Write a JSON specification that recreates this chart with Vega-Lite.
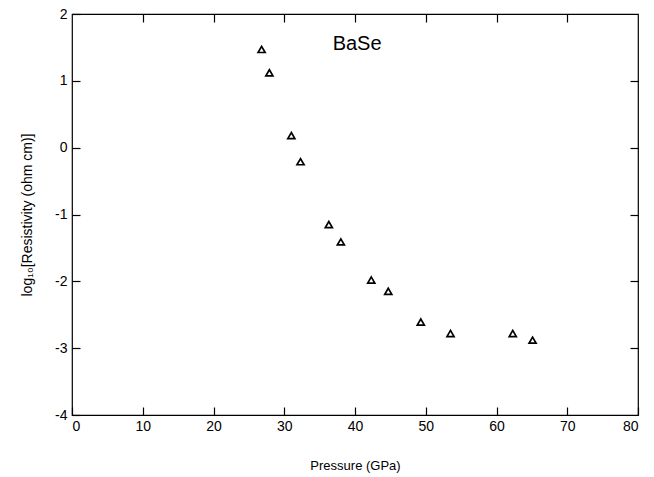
{
  "$schema": "https://vega.github.io/schema/vega-lite/v6.json",
  "width": 566,
  "height": 401,
  "autosize": {"type": "none"},
  "padding": {"left": 72, "top": 14, "right": 16, "bottom": 62},
  "background": "white",
  "config": {
    "view": {"stroke": "black", "strokeWidth": 1.2},
    "font": "Liberation Sans",
    "axis": {
      "grid": false,
      "domain": false,
      "tickColor": "black",
      "tickSize": -8,
      "tickWidth": 1.2,
      "labelColor": "black",
      "labelFont": "Liberation Sans",
      "labelFontSize": 14,
      "titleColor": "black",
      "titleFont": "Liberation Sans",
      "titleFontSize": 13,
      "titleFontWeight": "normal"
    }
  },
  "data": {
    "values": [
      {"p": 26.8, "r": 1.47},
      {"p": 27.9, "r": 1.12},
      {"p": 31.0, "r": 0.18},
      {"p": 32.3, "r": -0.21},
      {"p": 36.3, "r": -1.15},
      {"p": 38.0, "r": -1.41},
      {"p": 42.3, "r": -1.98},
      {"p": 44.7, "r": -2.15},
      {"p": 49.3, "r": -2.61},
      {"p": 53.5, "r": -2.78},
      {"p": 62.3, "r": -2.78},
      {"p": 65.1, "r": -2.88}
    ]
  },
  "layer": [
    {
      "mark": {"type": "point", "shape": "triangle-up", "filled": false, "stroke": "black", "opacity": 1, "strokeWidth": 1.7, "size": 50},
      "encoding": {
        "x": {
          "field": "p", "type": "quantitative",
          "scale": {"domain": [0, 80], "nice": false, "zero": false},
          "axis": {"orient": "bottom", "values": [0,10,20,30,40,50,60,70,80], "title": "Pressure (GPa)", "labelPadding": 12, "titlePadding": 26}
        },
        "y": {
          "field": "r", "type": "quantitative",
          "scale": {"domain": [-4, 2], "nice": false, "zero": false},
          "axis": {"orient": "left", "values": [-4,-3,-2,-1,0,1,2], "labelExpr": "datum.value < 0 ? '-' + abs(datum.value) : '' + datum.value", "title": "log₁₀[Resistivity (ohm cm)]", "titleFontSize": 14, "labelPadding": 13, "titlePadding": 20}
        }
      }
    },
    {
      "mark": {"type": "text", "fontSize": 20, "font": "Liberation Sans", "color": "black"},
      "data": {"values": [{"p": 40.3, "r": 1.55, "t": "BaSe"}]},
      "encoding": {
        "x": {"field": "p", "type": "quantitative", "scale": {"domain": [0, 80], "nice": false, "zero": false}, "axis": null},
        "y": {"field": "r", "type": "quantitative", "scale": {"domain": [-4, 2], "nice": false, "zero": false}, "axis": null},
        "text": {"field": "t"}
      }
    },
    {
      "mark": {"type": "point", "opacity": 0},
      "encoding": {
        "x": {"field": "p", "type": "quantitative", "scale": {"domain": [0, 80], "nice": false, "zero": false}, "axis": {"orient": "top", "labels": false, "title": null, "values": [10,20,30,40,50,60,70]}},
        "y": {"field": "r", "type": "quantitative", "scale": {"domain": [-4, 2], "nice": false, "zero": false}, "axis": {"orient": "right", "labels": false, "title": null, "values": [-3,-2,-1,0,1]}}
      }
    }
  ],
  "resolve": {"scale": {"x": "independent", "y": "independent"}, "axis": {"x": "independent", "y": "independent"}}
}
